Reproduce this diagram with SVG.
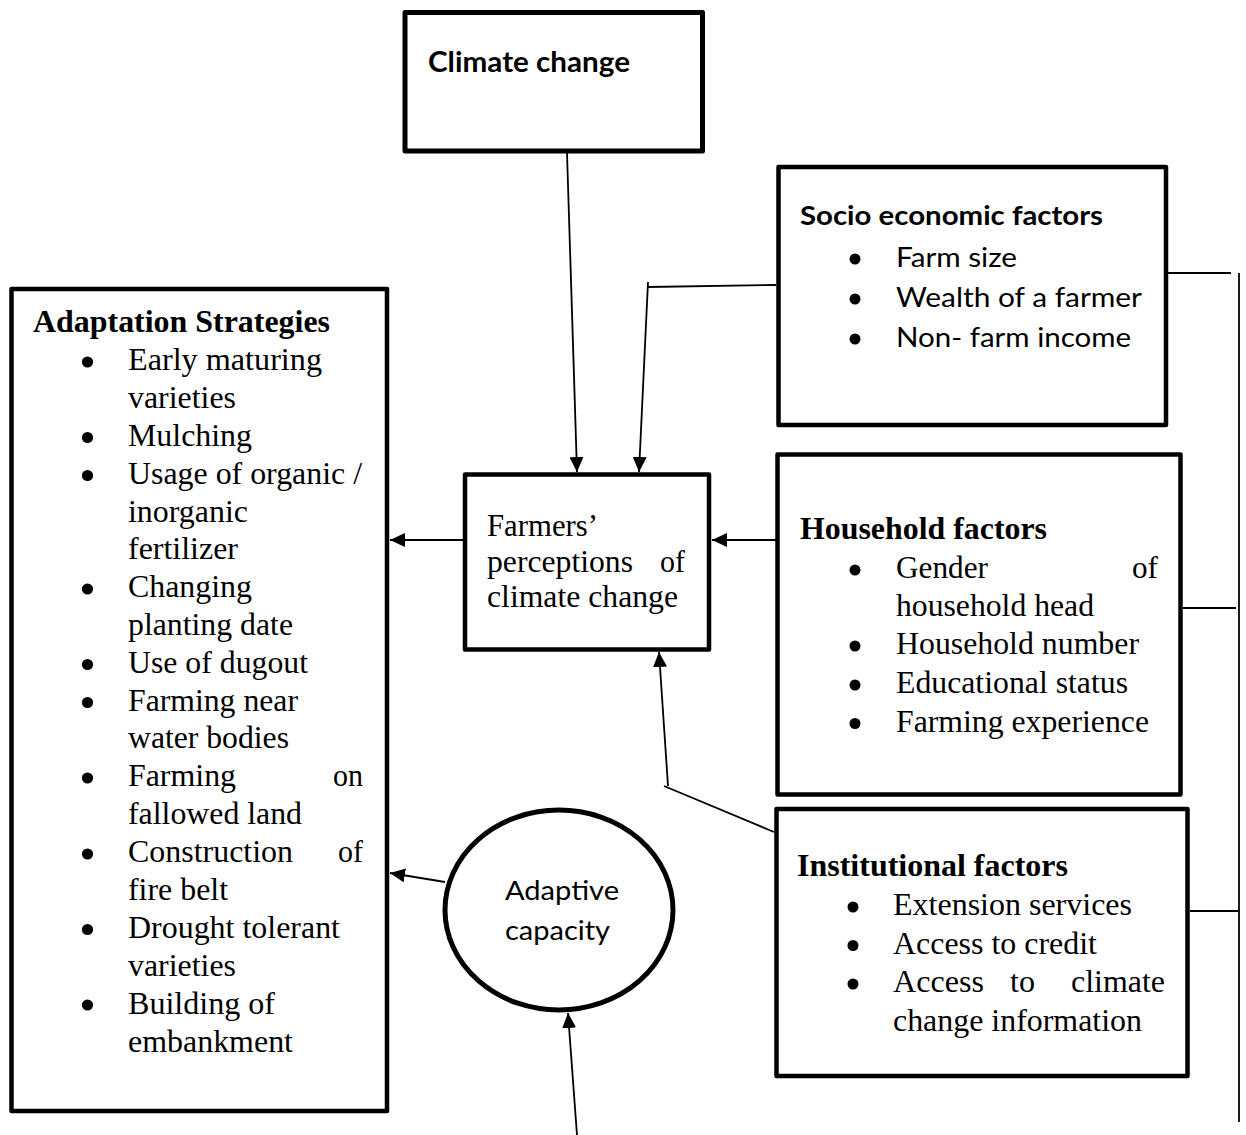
<svg xmlns="http://www.w3.org/2000/svg" width="1246" height="1135" viewBox="0 0 1246 1135">
<style>
.box{fill:#fff;stroke:#000;stroke-width:4.5;stroke-linejoin:round}
.ln{stroke:#000;stroke-width:1.8;fill:none}
.serif{font-family:"Liberation Serif","Times New Roman",serif;font-size:30.5px;fill:#000}
.sans{font-family:Lato,"Open Sans","Liberation Sans",sans-serif;font-size:26px;fill:#000}
.b{font-weight:bold}
.bul{fill:#000}
</style>
<defs>
<marker id="ah" markerUnits="userSpaceOnUse" markerWidth="16" markerHeight="14" refX="15" refY="7" orient="auto">
<path d="M0,0 L15,7 L0,14 z" fill="#000"/>
</marker>
</defs>
<rect width="1246" height="1135" fill="#fff"/>

<g id="climate-change">
<rect class="box" x="405" y="12.5" width="297.5" height="138.5" style="stroke-width:5"/>
<text class="sans b" x="428" y="72" textLength="202" lengthAdjust="spacingAndGlyphs" style="font-size:28px">Climate change</text>
</g>

<g id="adaptation-strategies">
<rect class="box" x="11.5" y="289" width="375.5" height="822"/>
<text class="serif b" x="33" y="332" textLength="297" lengthAdjust="spacingAndGlyphs">Adaptation Strategies</text>
<g class="bul">
<circle cx="87.5" cy="362" r="5.6"/>
<circle cx="87.5" cy="437.5" r="5.6"/>
<circle cx="87.5" cy="475.5" r="5.6"/>
<circle cx="87.5" cy="589" r="5.6"/>
<circle cx="87.5" cy="664.5" r="5.6"/>
<circle cx="87.5" cy="702.5" r="5.6"/>
<circle cx="87.5" cy="778" r="5.6"/>
<circle cx="87.5" cy="854" r="5.6"/>
<circle cx="87.5" cy="929.5" r="5.6"/>
<circle cx="87.5" cy="1005" r="5.6"/>
</g>
<text class="serif" x="128" y="370" textLength="194" lengthAdjust="spacingAndGlyphs">Early maturing</text>
<text class="serif" x="128" y="408" textLength="108" lengthAdjust="spacingAndGlyphs">varieties</text>
<text class="serif" x="128" y="446" textLength="124" lengthAdjust="spacingAndGlyphs">Mulching</text>
<text class="serif" x="128" y="484" textLength="234" lengthAdjust="spacingAndGlyphs">Usage of organic /</text>
<text class="serif" x="128" y="521.5" textLength="120" lengthAdjust="spacingAndGlyphs">inorganic</text>
<text class="serif" x="128" y="559" textLength="110" lengthAdjust="spacingAndGlyphs">fertilizer</text>
<text class="serif" x="128" y="597" textLength="124" lengthAdjust="spacingAndGlyphs">Changing</text>
<text class="serif" x="128" y="635" textLength="165" lengthAdjust="spacingAndGlyphs">planting date</text>
<text class="serif" x="128" y="672.5" textLength="180" lengthAdjust="spacingAndGlyphs">Use of dugout</text>
<text class="serif" x="128" y="710.5" textLength="170" lengthAdjust="spacingAndGlyphs">Farming near</text>
<text class="serif" x="128" y="748" textLength="161" lengthAdjust="spacingAndGlyphs">water bodies</text>
<text class="serif" x="128" y="786" textLength="108" lengthAdjust="spacingAndGlyphs">Farming</text>
<text class="serif" x="333" y="786" textLength="30" lengthAdjust="spacingAndGlyphs">on</text>
<text class="serif" x="128" y="824" textLength="174" lengthAdjust="spacingAndGlyphs">fallowed land</text>
<text class="serif" x="128" y="862" textLength="165" lengthAdjust="spacingAndGlyphs">Construction</text>
<text class="serif" x="338" y="862" textLength="25" lengthAdjust="spacingAndGlyphs">of</text>
<text class="serif" x="128" y="900" textLength="100" lengthAdjust="spacingAndGlyphs">fire belt</text>
<text class="serif" x="128" y="938" textLength="212" lengthAdjust="spacingAndGlyphs">Drought tolerant</text>
<text class="serif" x="128" y="976" textLength="108" lengthAdjust="spacingAndGlyphs">varieties</text>
<text class="serif" x="128" y="1013.5" textLength="147" lengthAdjust="spacingAndGlyphs">Building of</text>
<text class="serif" x="128" y="1051.5" textLength="165" lengthAdjust="spacingAndGlyphs">embankment</text>
</g>

<g id="farmers-perceptions">
<rect class="box" x="465" y="474.5" width="244" height="175"/>
<text class="serif" x="487" y="536" textLength="111" lengthAdjust="spacingAndGlyphs" style="font-size:31px">Farmers’</text>
<text class="serif" x="487" y="572" textLength="146" lengthAdjust="spacingAndGlyphs" style="font-size:31px">perceptions</text>
<text class="serif" x="660" y="572" textLength="25" lengthAdjust="spacingAndGlyphs" style="font-size:31px">of</text>
<text class="serif" x="487" y="607" textLength="191" lengthAdjust="spacingAndGlyphs" style="font-size:31px">climate change</text>
</g>

<g id="socio-economic-factors">
<rect class="box" x="778.5" y="167" width="387.5" height="258"/>
<text class="sans b" x="800" y="225" textLength="303" lengthAdjust="spacingAndGlyphs" style="font-size:27px">Socio economic factors</text>
<g class="bul">
<circle cx="855" cy="259" r="5.5"/>
<circle cx="855" cy="299" r="5.5"/>
<circle cx="855" cy="339" r="5.5"/>
</g>
<text class="sans" x="896" y="267" textLength="121" lengthAdjust="spacingAndGlyphs">Farm size</text>
<text class="sans" x="896" y="307" textLength="246" lengthAdjust="spacingAndGlyphs">Wealth of a farmer</text>
<text class="sans" x="896" y="347" textLength="235" lengthAdjust="spacingAndGlyphs">Non- farm income</text>
</g>

<g id="household-factors">
<rect class="box" x="777.5" y="454.5" width="403" height="340"/>
<text class="serif b" x="800" y="539" textLength="247" lengthAdjust="spacingAndGlyphs">Household factors</text>
<g class="bul">
<circle cx="855" cy="570" r="5.5"/>
<circle cx="855" cy="646" r="5.5"/>
<circle cx="855" cy="685" r="5.5"/>
<circle cx="855" cy="723.5" r="5.5"/>
</g>
<text class="serif" x="896" y="578" textLength="92" lengthAdjust="spacingAndGlyphs">Gender</text>
<text class="serif" x="1132" y="578" textLength="26" lengthAdjust="spacingAndGlyphs">of</text>
<text class="serif" x="896" y="616" textLength="198" lengthAdjust="spacingAndGlyphs">household head</text>
<text class="serif" x="896" y="654" textLength="243" lengthAdjust="spacingAndGlyphs">Household number</text>
<text class="serif" x="896" y="693" textLength="232" lengthAdjust="spacingAndGlyphs">Educational status</text>
<text class="serif" x="896" y="732" textLength="253" lengthAdjust="spacingAndGlyphs">Farming experience</text>
</g>

<g id="institutional-factors">
<rect class="box" x="776.5" y="809" width="411" height="267"/>
<text class="serif b" x="797" y="876" textLength="271" lengthAdjust="spacingAndGlyphs">Institutional factors</text>
<g class="bul">
<circle cx="853" cy="907" r="5.5"/>
<circle cx="853" cy="945.5" r="5.5"/>
<circle cx="853" cy="984" r="5.5"/>
</g>
<text class="serif" x="893" y="915" textLength="239" lengthAdjust="spacingAndGlyphs">Extension services</text>
<text class="serif" x="893" y="953.5" textLength="204" lengthAdjust="spacingAndGlyphs">Access to credit</text>
<text class="serif" x="893" y="992" textLength="91" lengthAdjust="spacingAndGlyphs">Access</text>
<text class="serif" x="1010" y="992" textLength="25" lengthAdjust="spacingAndGlyphs">to</text>
<text class="serif" x="1071" y="992" textLength="94" lengthAdjust="spacingAndGlyphs">climate</text>
<text class="serif" x="893" y="1030.5" textLength="249" lengthAdjust="spacingAndGlyphs">change information</text>
</g>

<g id="adaptive-capacity">
<ellipse cx="559" cy="910" rx="114" ry="100" fill="#fff" stroke="#000" stroke-width="5"/>
<text class="sans" x="505" y="900" textLength="114" lengthAdjust="spacingAndGlyphs" style="font-size:26.5px">Adaptive</text>
<text class="sans" x="505" y="940" textLength="105" lengthAdjust="spacingAndGlyphs" style="font-size:26.5px">capacity</text>
</g>

<g id="connectors">
<line class="ln" x1="567" y1="153" x2="577" y2="472" marker-end="url(#ah)"/>
<line class="ln" x1="776" y1="285" x2="648" y2="287"/>
<line class="ln" x1="648" y1="282" x2="639" y2="472" marker-end="url(#ah)"/>
<line class="ln" x1="463" y1="540" x2="390" y2="540" marker-end="url(#ah)"/>
<line class="ln" x1="776" y1="540" x2="712" y2="540" marker-end="url(#ah)"/>
<line class="ln" x1="774" y1="832" x2="664" y2="786"/>
<line class="ln" x1="668" y1="786" x2="659" y2="652" marker-end="url(#ah)"/>
<line class="ln" x1="445" y1="882" x2="390" y2="873" marker-end="url(#ah)"/>
<line class="ln" x1="577" y1="1135" x2="568" y2="1013" marker-end="url(#ah)"/>
<line class="ln" x1="1239" y1="273" x2="1239" y2="1122"/>
<line class="ln" x1="1167" y1="273" x2="1231" y2="273"/>
<line class="ln" x1="1183" y1="608" x2="1236" y2="608"/>
<line class="ln" x1="1190" y1="911" x2="1239" y2="911"/>
</g>
</svg>
